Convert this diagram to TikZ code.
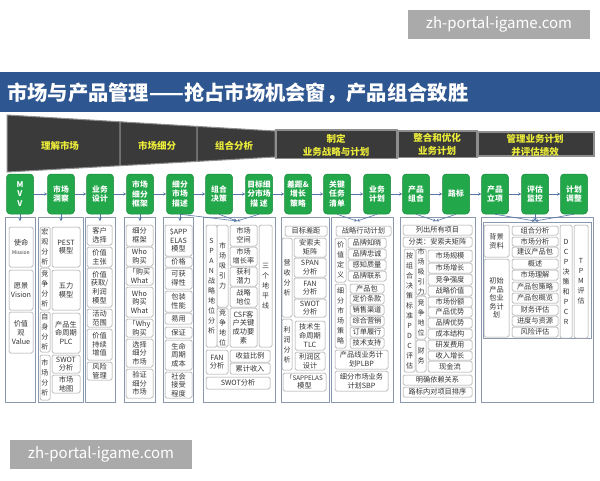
\documentclass[tikz,border=0pt]{standalone}
\usepackage{fontspec}
\setmainfont{Noto Sans CJK SC}
\usetikzlibrary{arrows.meta}
\definecolor{tbar}{HTML}{2E5690}
\definecolor{gfill}{HTML}{22A84A}
\definecolor{gline}{HTML}{1B8A3C}
\definecolor{hdr}{HTML}{3A3A3A}
\definecolor{hline}{HTML}{8E8E8E}
\definecolor{ylw}{HTML}{ECEC3A}
\definecolor{pline}{HTML}{8A98AE}
\definecolor{sline}{HTML}{9C9C9C}
\definecolor{txtc}{HTML}{333333}
\definecolor{arr}{HTML}{5676A6}
\definecolor{wm}{HTML}{AAAAAA}
\newcommand\bx[7][]{\draw[subbox,#1] (#3,#4) rectangle (#5,#6);
  \node[txt] (#2) at ({(#3+#5)/2},{(#4+#6)/2}) {#7};}
\newcommand\vx[6]{\draw[subbox] (#2,#3) rectangle (#4,#5);
  \node[vtxt] (#1) at ({(#2+#4)/2},{(#3+#5)/2}) {#6};}
\newcommand\pnl[5]{\draw[panel] (#2,#3) rectangle (#4,#5);
  \coordinate (#1) at ({(#2+#4)/2},#3);}
\begin{document}
\begin{tikzpicture}[x=1pt,y=-1pt,
  subbox/.style={draw=sline,line width=0.5pt,rounded corners=1.5pt,fill=white},
  txt/.style={inner sep=0pt,align=center,text=txtc,font=\fontsize{7.2}{8.6}\selectfont},
  vtxt/.style={inner sep=0pt,align=center,text=txtc,font=\fontsize{7}{10}\selectfont},
  panel/.style={draw=pline,line width=0.8pt,fill=white},
  gbox/.style={fill=gfill,draw=gline,line width=0.5pt,rounded corners=3.5pt,minimum width=27pt,minimum height=40pt,inner sep=0pt,align=center,text=white,font=\bfseries\fontsize{7.8}{9.3}\selectfont},
  hseg/.style={fill=hdr,draw=hline,line width=1pt},
  htxt/.style={text=ylw,font=\bfseries\fontsize{9.5}{13}\selectfont,align=center,inner sep=0pt},
  harr/.style={draw=arr,line width=0.6pt,-{Stealth[length=3pt,width=3pt]}},
  varr/.style={draw=arr,line width=0.6pt,-{Stealth[length=3pt,width=3pt]}},
  wmbox/.style={fill=wm,text=white,inner sep=0pt,font=\fontsize{15}{15}\selectfont}
]
\useasboundingbox (0,0) rectangle (600,480);
\fill[white] (0,0) rectangle (600,480);

% watermarks
\node[wmbox,minimum width=182pt,minimum height=29pt] (wm1) at (499,24.5) {zh-portal-igame.com};
\node[wmbox,minimum width=182pt,minimum height=29pt] (wm2) at (101,454.5) {zh-portal-igame.com};

% title bar
\fill[tbar] (0,72) rectangle (600,112);
\node[anchor=west,text=white,inner sep=0pt,font=\bfseries\fontsize{20.3}{20}\selectfont] (title) at (7,93) {市场与产品管理——抢占市场机会窗，产品组合致胜};

% header funnel
\draw[hseg] (7,115) -- (120,121.8) -- (120,165.7) -- (7,172) -- cycle;
\draw[hseg] (120,121.8) -- (197,126.4) -- (197,161.4) -- (120,165.7) -- cycle;
\draw[hseg] (197,126.4) -- (275,131) -- (275,157) -- (197,161.4) -- cycle;
\draw[hseg,line width=1.5pt] (276,130) rectangle (397,158.5);
\draw[hseg,line width=1.5pt] (398.5,131) rectangle (477,157.5);
\draw[hseg,line width=1.5pt] (478.5,132) rectangle (594,156);
\node[htxt] (h1) at (60,146) {理解市场};
\node[htxt] (h2) at (157,146) {市场细分};
\node[htxt] (h3) at (234,146) {组合分析};
\node[htxt] (h4) at (336,145) {制定\\业务战略与计划};
\node[htxt] (h5) at (437,144.5) {整合和优化\\业务计划};
\node[htxt] (h6) at (535,145.5) {管理业务计划\\并评估绩效};

% green boxes
\node[gbox] (g1) at (20,194) {M\\V\\V};
\node[gbox] (g2) at (61,194) {市场\\洞察};
\node[gbox] (g3) at (100,194) {业务\\设计};
\node[gbox] (g4) at (140,194) {市场\\细分\\框架};
\node[gbox] (g5) at (180,194) {细分\\市场\\描述};
\node[gbox] (g6) at (219,194) {组合\\决策};
\node[gbox] (g7) at (259,194) {目标细\\分市场\\描 述};
\node[gbox] (g8) at (298,194) {差距\&\\增长\\策略};
\node[gbox] (g9) at (337,194) {关键\\任务\\清单};
\node[gbox] (g10) at (377,194) {业务\\计划};
\node[gbox] (g11) at (416,194) {产品\\组合};
\node[gbox] (g12) at (456,194) {路标};
\node[gbox] (g13) at (495,194) {产品\\立项};
\node[gbox] (g14) at (535,194) {评估\\监控};
\node[gbox] (g15) at (574,194) {计划\\调整};
\foreach \a/\b in {g1/g2,g2/g3,g3/g4,g4/g5,g5/g6,g6/g7,g7/g8,g8/g9,g9/g10,g10/g11,g11/g12,g12/g13,g13/g14,g14/g15}
  \draw[harr] (\a) -- (\b);

% panels
\pnl{p1}{5}{217}{35}{402}
\pnl{p2}{38}{217}{83}{402}
\pnl{p3}{85}{217}{115}{402}
\pnl{p4}{124}{217}{155}{402}
\pnl{p5}{163}{217}{193}{402}
\pnl{p6}{203}{217}{275}{402}
\pnl{p8}{281}{217}{329}{402}
\pnl{p9}{331}{217}{393}{402}
\pnl{p10}{400}{217}{475}{402}
\pnl{p11}{481}{217}{593}{402}
\draw[draw=pline,line width=0.6pt] (483,222) rectangle (591,338);

% down arrows
\coordinate (a1) at (20,221);
\coordinate (a2) at (61,221);
\coordinate (a3) at (100,221);
\coordinate (a4) at (140,221);
\coordinate (a5) at (180,221);
\coordinate (a6) at (237,221);
\coordinate (a9) at (357,221);
\coordinate (a10) at (436,221);
\coordinate (a11) at (535,221);
\draw[varr] (g1.south) -- (a1);
\draw[varr] (g2.south) -- (a2);
\draw[varr] (g3.south) -- (a3);
\draw[varr] (g4.south) -- (a4);
\draw[varr] (g5.south) -- (a5);
\draw[varr] (g5.south) -- (a6);
\draw[varr] (g6.south) -- (a6);
\draw[varr] (g7.south) -- (a6);
\draw[varr] (g9.south) -- (a9);
\draw[varr] (g10.south) -- (a9);
\draw[varr] (g11.south) -- (a10);
\draw[varr] (g12.south) -- (a10);
\draw[varr] (g13.south) -- (a11);
\draw[varr] (g14.south) -- (a11);
\draw[varr] (g15.south) -- (a11);

% column 1
\bx{m1}{9}{227}{33}{267}{使命\\{\fontsize{5}{6}\selectfont Mission}}
\bx{m2}{9}{270}{33}{310}{愿景\\Vision}
\bx{m3}{9}{312}{33}{353}{价值\\观\\Value}

% column 2
\vx{l21}{40}{227}{50}{267}{宏\\观\\分\\析}
\vx{l22}{40}{268}{50}{310}{竞\\争\\分\\析}
\vx{l23}{40}{312}{50}{352}{自\\身\\分\\析}
\vx{l24}{40}{355}{50}{400}{市\\场\\分\\析}
\bx{b21}{52}{227}{80}{267}{PEST\\模型}
\bx{b22}{52}{270}{80}{310}{五力\\模型}
\bx{b23}{52}{313}{80}{353}{产品生\\命周期\\PLC}
\bx{b24}{52}{355}{80}{373}{SWOT\\分析}
\bx{b25}{52}{375}{80}{393}{市场\\地图}

% column 3
\bx{b31}{87}{225}{112}{245}{客户\\选择}
\bx{b32}{87}{247}{112}{267}{价值\\主张}
\bx{b33}{87}{268}{112}{307}{价值\\获取/\\利润\\模型}
\bx{b34}{87}{309}{112}{327}{活动\\范围}
\bx{b35}{87}{329}{112}{360}{价值\\持续\\增值}
\bx{b36}{87}{362}{112}{380}{风险\\管理}

% column 4
\bx{b41}{126}{225}{153}{246}{细分\\框架}
\bx{b42}{126}{247}{153}{266}{Who\\购买}
\bx{b43}{126}{267}{153}{285}{「购买\\What}
\bx{b44}{126}{287}{153}{317}{Who\\购买\\What}
\bx{b45}{126}{319}{153}{337}{「Why\\购买}
\bx{b46}{126}{339}{153}{367}{选择\\细分\\市场}
\bx{b47}{126}{369}{153}{398}{验证\\细分\\市场}

% column 5
\bx{b51}{165}{225}{192}{256}{\$APP\\ELAS\\模型}
\bx{b52}{165}{257}{192}{267}{价格}
\bx{b53}{165}{268}{192}{289}{可获\\得性}
\bx{b54}{165}{291}{192}{312}{包装\\性能}
\bx{b55}{165}{313}{192}{324}{易用}
\bx{b56}{165}{327}{192}{338}{保证}
\bx{b57}{165}{340}{192}{370}{生命\\周期\\成本}
\bx{b58}{165}{372}{192}{398}{社会\\接受\\程度}

% column 6-7
\vx{b61}{206}{225}{217}{347}{S\\P\\A\\N\\战\\略\\地\\位\\分\\析}
\vx{b62}{217}{225}{228}{307}{市\\场\\吸\\引\\力}
\vx{b63}{217}{308}{228}{347}{竞\\争\\地\\位}
\bx{b64}{230}{225}{257}{246}{市场\\空间}
\bx{b65}{230}{247}{257}{266}{市场\\增长率}
\bx{b66}{230}{267}{257}{286}{获利\\潜力}
\bx{b67}{230}{287}{257}{307}{战略\\地位}
\bx{b68}{230}{308}{257}{347}{CSF客\\户关键\\成功要\\素}
\vx{b69}{259}{225}{272}{347}{三\\个\\地\\平\\线}
\bx{b6a}{206}{350}{228}{374}{FAN\\分析}
\bx{b6b}{230}{350}{270}{362}{收益比例}
\bx{b6c}{230}{363}{270}{374}{累计收入}
\bx{b6d}{206}{377}{270}{389}{SWOT分析}

% column 8
\bx{b81}{285}{226}{327}{236}{目标差距}
\vx{b82}{282}{238}{292}{317}{营\\收\\分\\析}
\bx{b83}{294}{238}{326}{257}{安索夫\\矩阵}
\bx{b84}{294}{258}{326}{277}{SPAN\\分析}
\bx{b85}{294}{278}{326}{298}{FAN\\分析}
\bx{b86}{294}{299}{326}{317}{SWOT\\分析}
\vx{b87}{282}{319}{292}{370}{利\\润\\分\\析}
\bx{b88}{295}{321}{325}{350}{技术生\\命周期\\TLC}
\bx{b89}{295}{352}{325}{370}{利润区\\设计}
\bx{b8a}{283}{373}{326}{391}{{\fontsize{6.3}{7.8}\selectfont 「SAPPELAS}\\模型}

% column 9-10
\bx{b91}{336}{226}{391}{236}{战略行动计划}
\vx{b92}{335}{238}{346}{282}{价\\值\\定\\义}
\bx{b93}{348}{238}{386}{248}{品牌知晓}
\bx{b94}{348}{249}{386}{259}{品牌忠诚}
\bx{b95}{348}{260}{386}{270}{感知质量}
\bx{b96}{348}{271}{386}{281}{品牌联系}
\vx{b97}{335}{284}{346}{348}{细\\分\\市\\场\\策\\略}
\bx{b98}{350}{284}{384}{293}{产品包}
\bx{b99}{350}{294}{384}{304}{定价条款}
\bx{b9a}{350}{305}{384}{315}{销售渠道}
\bx{b9b}{350}{316}{384}{326}{综合营销}
\bx{b9c}{350}{327}{384}{337}{订单履行}
\bx{b9d}{350}{338}{384}{348}{技术支持}
\bx{b9e}{335}{350}{388}{369}{产品线业务计\\划PLBP}
\bx{b9f}{335}{371}{388}{391}{细分市场业务\\计划SBP}

% column 11-12
\bx{ba1}{403}{225}{472}{235}{列出所有项目}
\bx{ba2}{403}{237}{472}{247}{分类：安索夫矩阵}
\vx{ba3}{404}{249}{415}{372}{按\\组\\合\\决\\策\\标\\准\\P\\D\\C\\评\\估}
\vx{ba4}{416}{249}{426}{295}{市\\场\\吸\\引\\力}
\vx{ba5}{416}{296}{426}{339}{竞\\争\\地\\位}
\vx{ba6}{416}{340}{426}{372}{财\\务}
\bx{c1}{428}{250}{472}{262}{市场规模}
\bx{c2}{428}{263}{472}{273}{市场增长}
\bx{c3}{428}{274}{472}{285}{竞争强度}
\bx{c4}{428}{286}{472}{296}{战略价值}
\bx{c5}{428}{297}{472}{307}{市场份额}
\bx{c6}{428}{307}{472}{317}{产品优势}
\bx{c7}{428}{318}{472}{328}{品牌优势}
\bx{c8}{428}{329}{472}{339}{成本结构}
\bx{c9}{428}{340}{472}{350}{研发费用}
\bx{c10}{428}{351}{472}{360}{收入增长}
\bx{c11}{428}{361}{472}{372}{现金流}
\bx{ba7}{403}{375}{472}{385}{明确依赖关系}
\bx{ba8}{403}{387}{472}{397}{路标内对项目排序}

% column 13-15
\bx{bb1}{484}{225}{509}{257}{背景\\资料}
\bx{bb2}{484}{259}{509}{337}{初始\\产品\\包业\\务计\\划}
\bx{d1}{512}{226}{558}{235}{组合分析}
\bx{d2}{512}{237}{558}{246}{市场分析}
\bx{d3}{512}{247}{558}{257}{建议产品包}
\bx{d4}{512}{259}{558}{269}{概述}
\bx{d5}{512}{270}{558}{280}{市场理解}
\bx{d6}{512}{282}{558}{291}{产品包策略}
\bx{d7}{512}{293}{558}{303}{产品包概览}
\bx{d8}{512}{305}{558}{315}{财务评估}
\bx{d9}{512}{316}{558}{326}{进度与资源}
\bx{d10}{512}{327}{558}{337}{风险评估}
\vx{bb3}{560}{225}{572}{338}{D\\C\\P\\决\\策\\和\\P\\C\\R}
\vx{bb4}{574}{225}{588}{338}{T\\P\\M\\评\\估}
\end{tikzpicture}
\end{document}
